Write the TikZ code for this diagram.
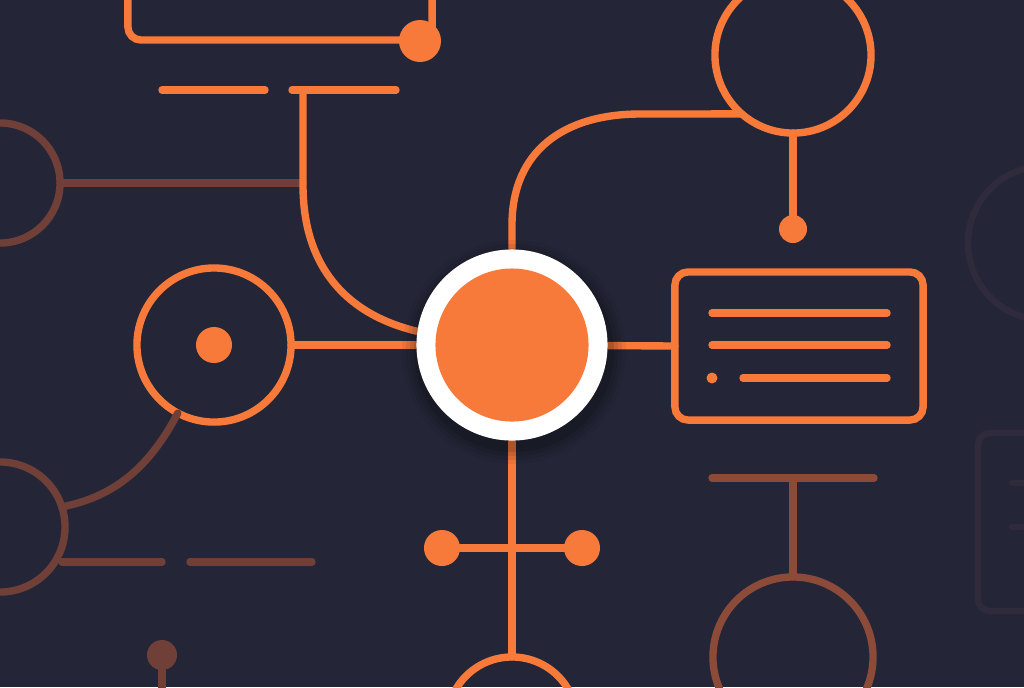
\documentclass[tikz,border=0pt]{standalone}
\begin{document}
\begin{tikzpicture}[x=0.01cm,y=-0.01cm,
  orln/.style={draw=orc, line width=2.1pt, line cap=round},
  dimln/.style={draw=dimc, line width=2.1pt, line cap=round},
  dimln2/.style={draw=dimd, line width=2.1pt, line cap=round},
  faintln/.style={draw=faintc, line width=1.8pt, line cap=round},
  ring/.style={circle, draw=orc, line width=2.1pt, inner sep=0pt, outer sep=0pt, minimum size=#1},
  dimring/.style={circle, draw=dimc, line width=2.1pt, inner sep=0pt, outer sep=0pt, minimum size=#1},
  dimring2/.style={circle, draw=dimd, line width=2.1pt, inner sep=0pt, outer sep=0pt, minimum size=#1},
  blob/.style={circle, fill=orc, inner sep=0pt, outer sep=0pt, minimum size=#1},
  dimblob/.style={circle, fill=dimc, inner sep=0pt, outer sep=0pt, minimum size=#1},
  panel/.style={draw=orc, line width=2.1pt, rounded corners=0.13cm, inner sep=0pt, outer sep=0pt, minimum width=#1},
]
\definecolor{bgc}{RGB}{36,38,56}
\definecolor{orc}{RGB}{248,122,58}
\definecolor{dimc}{RGB}{112,64,56}
\definecolor{dimd}{RGB}{140,74,56}
\definecolor{faintc}{RGB}{47,43,60}
\fill[bgc] (0,0) rectangle (1024,687);
\useasboundingbox (0,0) rectangle (1024,687);
\clip (0,0) rectangle (1024,687);

% faint right-edge elements
\node[circle, draw=faintc, line width=1.8pt, inner sep=0pt, minimum size=1.54cm] (fcirc) at (1045,243) {};
\node[draw=faintc, line width=1.8pt, rounded corners=0.12cm, inner sep=0pt, minimum width=1.2cm, minimum height=1.78cm] (fbox) at (1038,522) {};
\coordinate (fl1a) at (1012,483); \coordinate (fl1b) at (1040,483);
\coordinate (fl2a) at (1012,527); \coordinate (fl2b) at (1040,527);
\draw[faintln] (fl1a) -- (fl1b);
\draw[faintln] (fl2a) -- (fl2b);

% top-left panel
\node[panel=3.04cm, minimum height=0.8cm] (tlbox) at (280,0) {};
\node[blob=0.42cm] (tldot) at (420,41) {};

% bars under panel
\coordinate (b1a) at (162,90); \coordinate (b1b) at (265,90);
\coordinate (b2a) at (292,90); \coordinate (b2b) at (396,90);
\coordinate (tj) at (303,90);
\coordinate (tk) at (303,185);
\draw[orln] (b1a) -- (b1b);
\draw[orln] (b2a) -- (b2b);

% left dim circle and link
\node[dimring=1.2cm] (lc) at (0,183) {};
\coordinate (lj) at (303,183);
\draw[dimln] (lc.east) -- (lj);

% lower-left dim elements
\node[dimring=1.3cm] (llc) at (0,527) {};
\coordinate (d1a) at (62,562); \coordinate (d1b) at (162,562);
\coordinate (d2a) at (190,562); \coordinate (d2b) at (312,562);
\draw[dimln] (d1a) -- (d1b);
\draw[dimln] (d2a) -- (d2b);
\node[dimblob=0.3cm] (ldot) at (162,655) {};
\coordinate (ldown) at (162,700);
\draw[dimln] (ldot) -- (ldown);

% middle-left circle
\node[ring=1.54cm] (mc) at (214,345) {};
\node[blob=0.36cm] (mcdot) at (214,345) {};
\draw[dimln] (mc.-118) .. controls (148,470) and (112,497) .. (llc.18);

% bottom-right dim T
\coordinate (rt1) at (712,478); \coordinate (rt2) at (874,478);
\coordinate (rtj) at (793,478);
\node[dimring2=1.6cm] (rbc) at (793,657) {};
\draw[dimln2] (rt1) -- (rt2);
\draw[dimln2] (rtj) -- (rbc.north);

% top-right circle
\node[ring=1.56cm] (trc) at (793,55) {};
\node[blob=0.28cm] (trdot) at (793,229) {};
\draw[orln] (trc.south) -- (trdot);

% right panel
\node[panel=2.48cm, minimum height=1.48cm] (rbox) at (799,346) {};
\coordinate (r1a) at (712,313); \coordinate (r1b) at (887,313);
\coordinate (r2a) at (712,345); \coordinate (r2b) at (887,345);
\coordinate (r3a) at (743,378); \coordinate (r3b) at (887,378);
\draw[orln] (r1a) -- (r1b);
\draw[orln] (r2a) -- (r2b);
\draw[orln] (r3a) -- (r3b);
\node[blob=0.11cm] (rdot) at (712,378) {};

% bottom cross
\node[ring=1.3cm] (bc) at (512,722) {};
\node[blob=0.36cm] (bdl) at (442,548) {};
\node[blob=0.36cm] (bdr) at (582,548) {};
\coordinate (bj) at (512,548);
\draw[orln] (bdl) -- (bdr);

% hub
\coordinate (hub) at (512,345);
\draw[orln] (tj) -- (tk) .. controls (303,270) and (350,318) .. (425,333);
\draw[orln] (512,300) -- (512,225) .. controls (512,150) and (565,114) .. (640,114) -- (trc.-131);
\draw[orln] (mc.east) -- (hub);
\draw[orln] (hub) -- (rbox.west);
\draw[orln] (hub) -- (bc.north);

% shadow
\foreach \r/\o in {112/0.05,108/0.07,104/0.09,100/0.12}
  \fill[black, opacity=\o] (514,352) circle[radius=\r];
\node[circle, fill=white, inner sep=0pt, minimum size=1.91cm] (hubring) at (hub) {};
\node[circle, fill=orc, inner sep=0pt, minimum size=1.53cm] (hubcore) at (hub) {};
\end{tikzpicture}
\end{document}
